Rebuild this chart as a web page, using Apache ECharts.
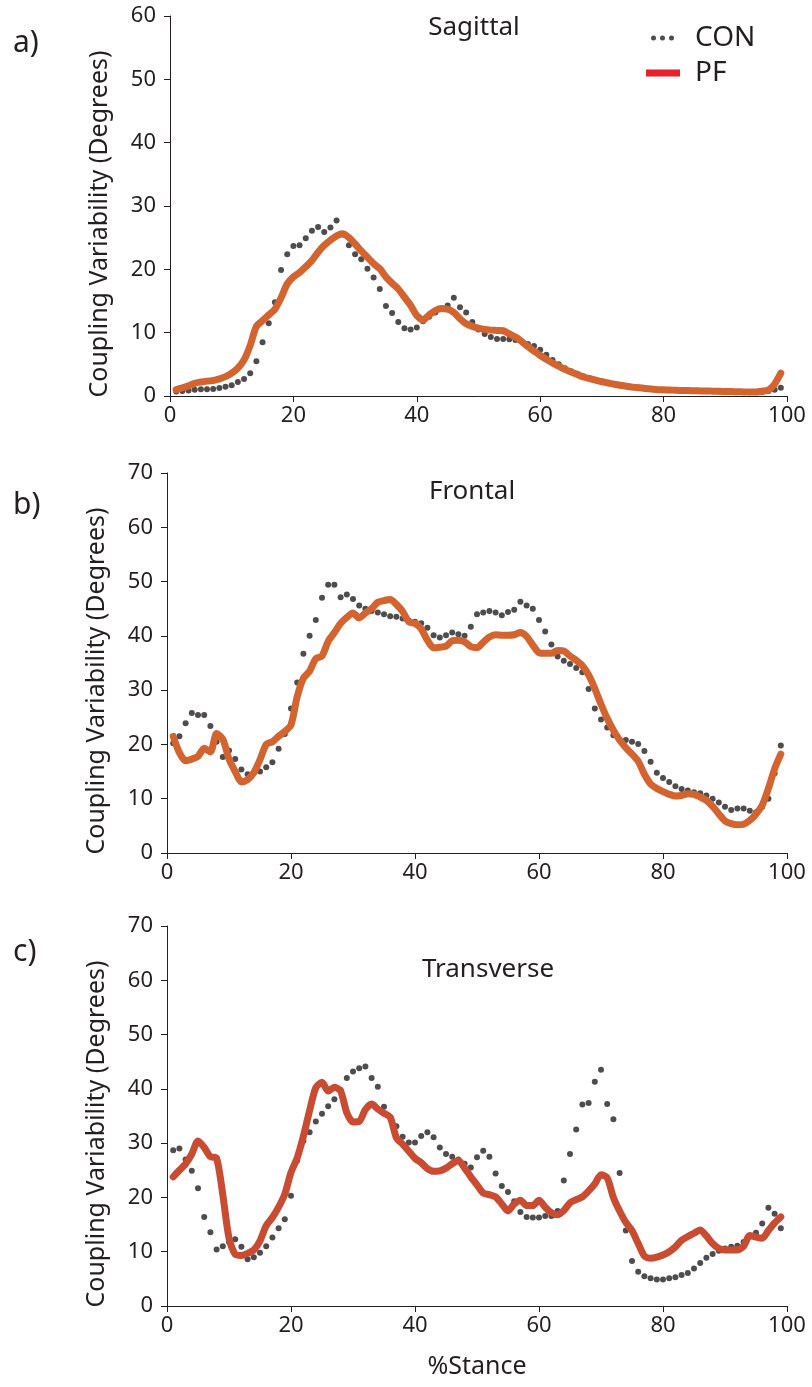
<!DOCTYPE html>
<html>
<head>
    <meta charset="utf-8">
    <title>Coupling Variability</title>
    <script src="https://cdn.jsdelivr.net/npm/echarts@6/dist/echarts.min.js"></script>
    <style>
        html, body { margin: 0; padding: 0; background: #fff; }
        #container { width: 812px; height: 1387px; }
    </style>
</head>
<body>
<div id="container"></div>

<script type="text/javascript">
    // % stance (x)
    var stance = [1,2,3,4,5,6,7,8,9,10,11,12,13,14,15,16,17,18,19,20,
        21,22,23,24,25,26,27,28,29,30,31,32,33,34,35,36,37,38,39,40,
        41,42,43,44,45,46,47,48,49,50,51,52,53,54,55,56,57,58,59,60,
        61,62,63,64,65,66,67,68,69,70,71,72,73,74,75,76,77,78,79,80,
        81,82,83,84,85,86,87,88,89,90,91,92,93,94,95,96,97,98,99];

    // a) Sagittal
    var conSagittal = [0.7,0.8,0.85,1.0,1.05,1.05,1.1,1.25,1.45,1.7,
        2.2,2.7,3.6,5.5,8.5,11.5,14.8,19.9,22.4,23.7,
        23.8,24.9,26.1,26.7,25.9,26.6,27.7,25.5,23.8,22.4,
        21.6,20.1,18.7,16.9,14.2,13.1,11.7,10.7,10.5,10.8,
        11.8,12.5,13.2,13.8,14.3,15.5,14.0,13.2,11.7,10.5,
        9.8,9.3,9.0,9.0,8.95,8.85,8.6,8.2,7.9,7.3,
        6.5,5.7,5.0,4.4,3.9,3.5,3.1,2.8,2.5,2.3,
        2.1,1.9,1.7,1.55,1.4,1.3,1.2,1.1,1.0,0.95,
        0.9,0.9,0.85,0.85,0.8,0.8,0.75,0.75,0.7,0.7,
        0.65,0.65,0.6,0.6,0.6,0.65,0.8,1.0,1.3];
    var pfSagittal = [1.0,1.3,1.6,2.0,2.2,2.35,2.45,2.7,3.05,3.6,
        4.4,5.7,8.0,11.0,11.9,12.8,13.7,15.5,17.7,18.8,
        19.5,20.4,21.4,22.7,23.8,24.6,25.3,25.6,25.0,24.0,
        22.9,21.9,20.9,20.1,18.8,17.8,16.9,15.6,14.3,12.7,
        12.0,12.8,13.5,13.8,13.7,13.2,12.2,11.4,11.0,10.7,
        10.5,10.4,10.35,10.3,9.8,9.3,8.6,7.8,7.1,6.4,
        5.8,5.2,4.7,4.2,3.8,3.4,3.0,2.75,2.5,2.25,
        2.05,1.85,1.7,1.55,1.4,1.3,1.2,1.1,1.0,0.98,
        0.95,0.9,0.88,0.85,0.82,0.8,0.78,0.76,0.74,0.72,
        0.7,0.67,0.65,0.63,0.65,0.75,0.95,1.9,3.6];

    // b) Frontal
    var conFrontal = [20.2,21.5,23.9,25.8,25.4,25.4,23.4,20.5,17.7,18.9,
        17.3,15.4,14.5,14.8,15.0,15.8,16.7,19.2,21.9,26.6,
        31.4,36.7,40.0,42.9,47.0,49.4,49.4,47.1,47.6,46.8,
        45.6,45.0,44.6,44.3,44.0,43.6,43.5,43.2,42.8,42.6,
        42.3,41.5,40.1,39.7,40.1,40.6,40.3,40.0,41.7,44.0,
        44.3,44.6,44.3,43.8,44.4,44.8,46.3,45.6,45.0,42.9,
        40.8,38.4,36.2,35.4,34.8,34.1,33.3,30.2,26.6,24.6,
        23.1,21.7,20.8,20.8,20.5,20.1,18.8,16.8,14.8,13.8,
        13.1,12.3,11.8,11.5,11.2,11.0,10.6,10.0,9.3,8.5,
        7.9,8.2,8.2,7.8,7.5,8.5,10.0,14.7,19.8];
    var pfFrontal = [21.5,18.5,17.0,17.3,17.8,19.3,18.6,22.0,21.0,17.3,
        15.0,13.1,13.5,14.8,17.2,20.0,20.5,21.5,22.4,23.6,
        28.8,32.2,33.5,35.8,36.3,39.0,40.6,42.3,43.4,44.2,
        43.3,44.2,45.0,46.2,46.5,46.7,45.8,44.5,42.6,42.3,
        41.3,39.2,37.8,37.9,38.1,39.1,39.2,38.9,38.0,37.8,
        38.8,39.8,40.2,40.1,40.1,40.2,40.6,39.9,38.3,36.9,
        36.8,36.8,37.3,37.2,36.3,35.5,34.5,32.8,30.3,27.4,
        24.8,22.6,20.8,19.4,18.2,16.9,14.5,12.7,11.9,11.3,
        10.8,10.5,10.6,10.9,10.8,10.3,9.7,8.6,7.2,5.9,
        5.4,5.2,5.3,6.0,7.2,8.8,11.9,15.5,18.2];

    // c) Transverse
    var conTransverse = [28.7,29.0,27.0,24.9,21.7,16.4,13.6,10.4,11.0,11.8,
        12.3,10.9,8.6,9.0,9.8,11.0,12.6,14.3,16.0,20.3,
        26.8,30.4,32.0,34.0,35.4,36.8,38.1,39.8,42.0,43.2,
        43.8,44.1,42.0,40.4,36.7,34.8,33.1,31.2,30.1,30.1,
        31.3,32.0,31.1,29.2,28.0,27.5,27.0,26.2,25.5,27.4,
        28.6,27.5,24.4,22.1,21.0,19.3,17.3,16.4,16.3,16.3,
        16.6,16.6,17.5,23.1,28.0,32.5,37.1,37.4,41.3,43.5,
        37.2,34.4,24.5,13.9,8.3,6.3,5.5,5.1,4.9,4.9,
        5.1,5.3,5.7,6.1,6.9,7.9,8.9,9.6,10.2,10.6,
        10.9,11.1,11.8,12.8,13.5,15.2,18.1,17.0,14.3];
    var pfTransverse = [23.8,25.0,26.2,28.0,30.4,29.2,27.5,27.2,20.5,12.5,
        9.5,9.3,9.7,10.3,12.0,14.8,16.3,18.2,20.6,24.6,
        27.3,31.3,36.0,40.2,41.2,39.6,40.3,39.6,35.6,33.9,
        34.0,36.2,37.2,36.3,35.5,34.8,31.0,29.8,28.5,27.2,
        26.4,25.3,24.8,24.9,25.4,26.2,26.8,25.4,23.8,22.3,
        20.8,20.5,20.1,18.8,17.5,18.8,19.5,18.5,18.5,19.5,
        18.2,17.2,16.8,17.6,19.0,19.6,20.1,21.2,22.5,24.2,
        23.6,20.0,17.5,15.4,13.9,11.5,9.2,8.8,9.0,9.4,
        10.0,10.9,12.1,12.8,13.4,14.0,12.9,11.5,10.6,10.3,
        10.3,10.3,11.0,13.0,12.7,12.5,13.9,15.3,16.4];

    var panelNames = ['Sagittal', 'Frontal', 'Transverse'];
    var panelLetters = ['a)', 'b)', 'c)'];
    var yMaxes = [60, 70, 70];

    var FONT = 'Noto Sans';
    var INK = '#231F20';
    var pfColors = ['#D4642F', '#D4642F', '#C84B32'];

    function pairs(vals) {
        return stance.map(function (x, i) { return [x, vals[i]]; });
    }

    var conData = [conSagittal, conFrontal, conTransverse];
    var pfData = [pfSagittal, pfFrontal, pfTransverse];

    var gridTops = [16, 473, 926];
    var gridLefts = [170, 167, 167];

    var grids = [], xAxes = [], yAxes = [], series = [], titles = [];

    for (var p = 0; p < 3; p++) {
        grids.push({ left: gridLefts[p], right: 25, top: gridTops[p], height: 380 });

        xAxes.push({
            type: 'value', gridIndex: p, min: 0, max: 100, interval: 20,
            axisLine: { lineStyle: { color: INK, width: 1 } },
            axisTick: { length: 6, lineStyle: { color: INK } },
            axisLabel: { color: INK, fontSize: 22, fontFamily: FONT, margin: 9 },
            splitLine: { show: false },
            name: p === 2 ? '%Stance' : '',
            nameLocation: 'middle', nameGap: 48,
            nameTextStyle: { color: INK, fontSize: 25, fontFamily: FONT }
        });

        yAxes.push({
            type: 'value', gridIndex: p, min: 0, max: yMaxes[p], interval: 10,
            axisLine: { show: true, lineStyle: { color: INK, width: 1 } },
            axisTick: { show: true, length: 6, lineStyle: { color: INK } },
            axisLabel: { color: INK, fontSize: 22, fontFamily: FONT, margin: 14 },
            splitLine: { show: false },
            name: 'Coupling Variability (Degrees)',
            nameLocation: 'middle', nameGap: 58, nameRotate: 90,
            nameTextStyle: { color: INK, fontSize: 25, fontFamily: FONT, padding: [0, 36, 0, 0] }
        });

        series.push({
            name: 'CON', type: 'scatter', xAxisIndex: p, yAxisIndex: p,
            symbolSize: 6, itemStyle: { color: INK },
            data: pairs(conData[p]), z: 2
        });
        series.push({
            name: 'PF', type: 'line', xAxisIndex: p, yAxisIndex: p,
            symbol: 'none', smooth: 0.25,
            lineStyle: { color: pfColors[p], width: 7, cap: 'round', join: 'round' },
            itemStyle: { color: pfColors[p] },
            data: pairs(pfData[p]), z: 3
        });
    }

    var letterTops = [28, 490, 937];
    for (var j = 0; j < 3; j++) {
        titles.push({
            text: panelLetters[j], left: 13, top: letterTops[j], padding: 0,
            textStyle: { color: INK, fontSize: 30, fontWeight: 'normal', fontFamily: FONT }
        });
    }
    var namePos = [[474, 15], [472, 479], [488, 957]];
    for (var k = 0; k < 3; k++) {
        titles.push({
            text: panelNames[k], left: namePos[k][0], top: namePos[k][1], textAlign: 'center', padding: 0,
            textStyle: { color: INK, fontSize: 26, fontWeight: 'normal', fontFamily: FONT }
        });
    }

    var mychart = echarts.init(document.getElementById('container'));
    mychart.setOption({
        animation: false,
        backgroundColor: '#fff',
        title: titles,
        legend: [{
            data: [{ name: 'CON', icon: 'path://M0,2.5a2.5,2.5 0 1,0 5,0a2.5,2.5 0 1,0 -5,0M9,2.5a2.5,2.5 0 1,0 5,0a2.5,2.5 0 1,0 -5,0M18,2.5a2.5,2.5 0 1,0 5,0a2.5,2.5 0 1,0 -5,0' }],
            left: 651, top: 24, padding: 0, itemWidth: 23, itemHeight: 5,
            selectedMode: false,
            textStyle: { color: INK, fontSize: 28, fontFamily: FONT, padding: [0, 0, 0, 16] }
        }, {
            data: [{ name: 'PF', icon: 'rect', itemStyle: { color: '#E8202A' } }],
            left: 646, top: 59, padding: 0, itemWidth: 34, itemHeight: 7,
            selectedMode: false,
            textStyle: { color: INK, fontSize: 28, fontFamily: FONT, padding: [0, 0, 0, 10] }
        }],
        grid: grids,
        xAxis: xAxes,
        yAxis: yAxes,
        series: series
    });
</script>
</body>
</html>
